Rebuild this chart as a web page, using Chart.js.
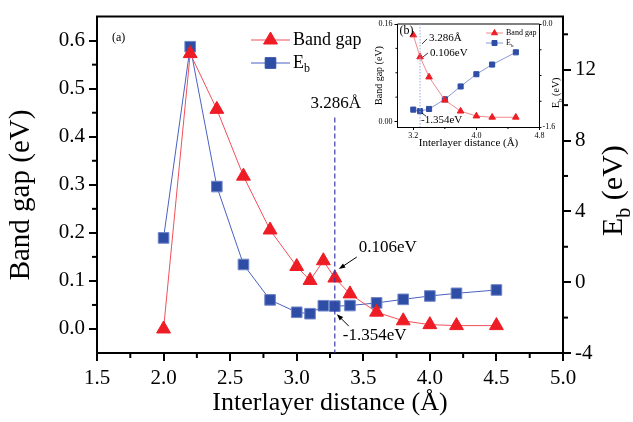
<!DOCTYPE html>
<html>
<head>
<meta charset="utf-8">
<script src="https://cdn.jsdelivr.net/npm/chart.js@4.4.1/dist/chart.umd.min.js"></script>
<style>
  body { margin: 0; background: #fff; }
  #wrap { position: relative; width: 633px; height: 422px; }
  #main { position: absolute; left: 0; top: 0; }
  #inset { position: absolute; left: 368px; top: 14px; }
</style>
</head>
<body>
<div id="wrap">
  <canvas id="main" width="633" height="422"></canvas>
  <canvas id="inset" width="200" height="142"></canvas>
</div>
<script>
// Values
const distance = [2.0, 2.2, 2.4, 2.6, 2.8, 3.0, 3.1, 3.2, 3.286, 3.4, 3.6, 3.8, 4.0, 4.2, 4.5];
const bandGap = [0.0, 0.573, 0.457, 0.318, 0.206, 0.130, 0.101, 0.142, 0.106, 0.073, 0.035, 0.017, 0.009, 0.007, 0.007];
const eb = [2.5, 13.3, 5.4, 1.0, -1.0, -1.70, -1.78, -1.33, -1.354, -1.32, -1.17, -0.97, -0.78, -0.63, -0.44];

// the marked equilibrium distance
const markDistance = 3.286;
const markGap = 0.106;
const markEb = -1.354;
const markTop = 0.44;

// tick labels
const xTicks = [1.5, 2.0, 2.5, 3.0, 3.5, 4.0, 4.5, 5.0];
const xMinor = [1.75, 2.25, 2.75, 3.25, 3.75, 4.25, 4.75];
const gapTicks = [0.0, 0.1, 0.2, 0.3, 0.4, 0.5, 0.6];
const gapMinor = [0.05, 0.15, 0.25, 0.35, 0.45, 0.55];
const ebTicks = [-4, 0, 4, 8, 12];
const ebMinor = [-2, 2, 6, 10, 14];

// inset shows the part from 3.2 A on
const insetFrom = distance.indexOf(3.2);
const insetDistance = distance.slice(insetFrom);
const insetGap = bandGap.slice(insetFrom);
const insetEb = eb.slice(insetFrom);
const insetXTicks = [3.2, 4.0, 4.8];
const insetXMinor = [3.6, 4.4];
const insetGapTicks = [0.0, 0.16];
const insetGapMinor = [0.04, 0.08, 0.12];
const insetEbTicks = [-1.6, 0.0];
const insetEbMinor = [-1.2, -0.8, -0.4];

const serif = "'Liberation Serif', 'Times New Roman', serif";
const red = '#ee1c25';
const redLine = '#f0505a';
const blue = '#2e4ea6';
const blueLine = '#4a60c0';

Chart.defaults.font.family = serif;
Chart.defaults.color = '#000';

function pts(xs, ys) {
    return xs.map((x, i) => ({ x: x, y: ys[i] }));
}

function fixTicks(values) {
    return (scale) => { scale.ticks = values.map((v) => ({ value: v })); };
}

function minorTicks(chart, id, values, len) {
    const s = chart.scales[id];
    const a = chart.chartArea;
    const ctx = chart.ctx;
    ctx.save();
    ctx.strokeStyle = '#000';
    ctx.lineWidth = s.options.grid.lineWidth;
    values.forEach((v) => {
        const p = s.getPixelForValue(v);
        ctx.beginPath();
        if (s.isHorizontal()) { ctx.moveTo(p, a.bottom); ctx.lineTo(p, a.bottom + len); }
        else if (s.position === 'left') { ctx.moveTo(a.left, p); ctx.lineTo(a.left - len, p); }
        else { ctx.moveTo(a.right, p); ctx.lineTo(a.right + len, p); }
        ctx.stroke();
    });
    ctx.restore();
}

function arrow(ctx, x1, y1, x2, y2, head) {
    const ang = Math.atan2(y2 - y1, x2 - x1);
    ctx.beginPath();
    ctx.moveTo(x1, y1);
    ctx.lineTo(x2 - Math.cos(ang) * head * 0.8, y2 - Math.sin(ang) * head * 0.8);
    ctx.stroke();
    ctx.beginPath();
    ctx.moveTo(x2, y2);
    ctx.lineTo(x2 - head * Math.cos(ang - 0.35), y2 - head * Math.sin(ang - 0.35));
    ctx.lineTo(x2 - head * Math.cos(ang + 0.35), y2 - head * Math.sin(ang + 0.35));
    ctx.closePath();
    ctx.fill();
}

// rotated text reading bottom-to-top
function vText(ctx, text, x, y, size) {
    ctx.save();
    ctx.translate(x, y);
    ctx.rotate(-Math.PI / 2);
    ctx.fillStyle = '#000';
    ctx.textBaseline = 'alphabetic';
    ctx.textAlign = 'center';
    ctx.font = size + 'px ' + serif;
    ctx.fillText(text, 0, 0);
    ctx.restore();
}

// E with subscript b, rotated to read bottom-to-top
function ebTitle(ctx, x, y, size) {
    ctx.save();
    ctx.translate(x, y);
    ctx.rotate(-Math.PI / 2);
    ctx.fillStyle = '#000';
    ctx.textBaseline = 'alphabetic';
    ctx.textAlign = 'left';
    ctx.font = size + 'px ' + serif;
    const wE = ctx.measureText('E').width;
    ctx.fillText('E', 0, 0);
    ctx.font = Math.round(size * 0.65) + 'px ' + serif;
    const wb = ctx.measureText('b').width;
    ctx.fillText('b', wE, size * 0.25);
    ctx.font = size + 'px ' + serif;
    ctx.fillText(' (eV)', wE + wb, 0);
    ctx.restore();
}

function legendRow(ctx, x, y, w, color, lineColor, style, r, label, size, sub) {
    ctx.save();
    ctx.strokeStyle = lineColor;
    ctx.lineWidth = 1;
    ctx.beginPath();
    ctx.moveTo(x, y);
    ctx.lineTo(x + w, y);
    ctx.stroke();
    ctx.fillStyle = color;
    ctx.strokeStyle = color;
    Chart.helpers.drawPoint(ctx, { pointStyle: style, radius: r, rotation: 0, borderWidth: 1 }, x + w / 2, y);
    ctx.fillStyle = '#000';
    ctx.textBaseline = 'middle';
    ctx.textAlign = 'left';
    ctx.font = size + 'px ' + serif;
    ctx.fillText(label, x + w + 3, y);
    if (sub) {
        const wl = ctx.measureText(label).width;
        ctx.font = Math.round(size * 0.65) + 'px ' + serif;
        ctx.fillText(sub, x + w + 3 + wl, y + size * 0.35);
    }
    ctx.restore();
}

function axisScale(opts) {
    return {
        type: 'linear',
        position: opts.position,
        min: opts.min,
        max: opts.max,
        afterBuildTicks: fixTicks(opts.ticks),
        afterFit: opts.fit,
        ticks: {
            callback: opts.format,
            font: { family: serif, size: opts.fontSize },
            color: '#000',
            padding: opts.pad,
            maxRotation: 0,
            autoSkip: false
        },
        grid: { drawOnChartArea: false, drawTicks: true, tickLength: opts.tick, color: '#000', lineWidth: opts.lw },
        border: { color: '#000', width: opts.lw },
        title: opts.title || { display: false }
    };
}

// main panel decorations
const mainDecor = {
    id: 'mainDecor',
    afterDraw(chart) {
        const ctx = chart.ctx;
        const a = chart.chartArea;
        const sx = chart.scales.x, sy = chart.scales.y, sy1 = chart.scales.y1;

        ctx.save();
        ctx.strokeStyle = '#000';
        ctx.lineWidth = 2;
        ctx.beginPath();
        ctx.moveTo(a.left - 1, a.top);
        ctx.lineTo(a.right + 1, a.top);
        ctx.stroke();
        ctx.restore();

        minorTicks(chart, 'x', xMinor, 5);
        minorTicks(chart, 'y', gapMinor, 5);
        minorTicks(chart, 'y1', ebMinor, 5);

        // dashed guide at the equilibrium distance
        const gx = sx.getPixelForValue(markDistance);
        const gTop = sy.getPixelForValue(markTop);
        ctx.save();
        ctx.strokeStyle = '#3c3ca8';
        ctx.lineWidth = 1.2;
        ctx.setLineDash([5, 3]);
        ctx.beginPath();
        ctx.moveTo(gx, gTop);
        ctx.lineTo(gx, a.bottom);
        ctx.stroke();
        ctx.restore();

        ctx.save();
        ctx.fillStyle = '#000';
        ctx.strokeStyle = '#000';
        ctx.lineWidth = 1;
        ctx.font = '17px ' + serif;
        ctx.textBaseline = 'middle';
        ctx.textAlign = 'center';
        ctx.fillText(markDistance + 'Å', gx + 1, gTop - 14);

        ctx.textAlign = 'left';
        const pg = sy.getPixelForValue(markGap);
        ctx.fillText(markGap.toFixed(3) + 'eV', gx + 24, pg - 30);
        arrow(ctx, gx + 22, pg - 21, gx + 4, pg - 9, 7);

        const pe = sy1.getPixelForValue(markEb);
        ctx.fillText(markEb.toFixed(3) + 'eV', gx + 8, pe + 29);
        arrow(ctx, gx + 14, pe + 20, gx + 2, pe + 8, 7);

        ctx.font = '12px ' + serif;
        ctx.fillText('(a)', a.left + 15, a.top + 21);
        ctx.restore();

        legendRow(ctx, 251, 40, 39, red, redLine, 'triangle', 8, 'Band gap', 18);
        legendRow(ctx, 251, 63, 39, blue, blueLine, 'rect', 7.5, 'E', 18, 'b');

        vText(ctx, 'Band gap (eV)', 29, 195, 29);
        ebTitle(ctx, 622, 236, 30);
    }
};

new Chart(document.getElementById('main'), {
    type: 'line',
    data: {
        datasets: [
            {
                label: 'Band gap',
                data: pts(distance, bandGap),
                yAxisID: 'y',
                borderColor: redLine,
                borderWidth: 1,
                backgroundColor: red,
                pointStyle: 'triangle',
                pointRadius: 8,
                pointBackgroundColor: red,
                pointBorderColor: red,
                pointBorderWidth: 1
            },
            {
                label: 'Eb',
                data: pts(distance, eb),
                yAxisID: 'y1',
                borderColor: blueLine,
                borderWidth: 1,
                backgroundColor: blue,
                pointStyle: 'rect',
                pointRadius: 7.5,
                pointBackgroundColor: blue,
                pointBorderColor: '#6f85c8',
                pointBorderWidth: 1
            }
        ]
    },
    options: {
        responsive: false,
        animation: false,
        devicePixelRatio: 1,
        layout: { padding: { top: 12, left: 0, right: 0, bottom: 0 } },
        plugins: { legend: { display: false }, tooltip: { enabled: false } },
        scales: {
            x: axisScale({
                position: 'bottom', min: 1.5, max: 5.0, ticks: xTicks,
                fit: (s) => { s.height = 69; },
                format: (v) => v.toFixed(1), fontSize: 21, pad: 5, tick: 8, lw: 2,
                title: { display: true, text: 'Interlayer distance (Å)', color: '#000',
                         font: { family: serif, size: 26 }, padding: { top: 0, bottom: 3 } }
            }),
            y: axisScale({
                position: 'left', min: -0.05, max: 0.65, ticks: gapTicks,
                fit: (s) => { s.width = 97; },
                format: (v) => v.toFixed(1), fontSize: 21, pad: 4, tick: 8, lw: 2
            }),
            y1: axisScale({
                position: 'right', min: -4, max: 15, ticks: ebTicks,
                fit: (s) => { s.width = 70; },
                format: (v) => String(v), fontSize: 21, pad: 4, tick: 8, lw: 2
            })
        }
    },
    plugins: [mainDecor]
});

// inset panel decorations
const insetDecor = {
    id: 'insetDecor',
    afterDraw(chart) {
        const ctx = chart.ctx;
        const a = chart.chartArea;
        const sx = chart.scales.x, sy = chart.scales.y, sy1 = chart.scales.y1;

        ctx.save();
        ctx.strokeStyle = '#000';
        ctx.lineWidth = 1;
        ctx.beginPath();
        ctx.moveTo(a.left, a.top);
        ctx.lineTo(a.right, a.top);
        ctx.stroke();
        ctx.restore();

        minorTicks(chart, 'x', insetXMinor, 2);
        minorTicks(chart, 'y', insetGapMinor, 2);
        minorTicks(chart, 'y1', insetEbMinor, 2);

        const gx = sx.getPixelForValue(markDistance);
        ctx.save();
        ctx.strokeStyle = '#9aa6e0';
        ctx.lineWidth = 1;
        ctx.setLineDash([1.5, 1.5]);
        ctx.beginPath();
        ctx.moveTo(gx, a.top);
        ctx.lineTo(gx, a.bottom);
        ctx.stroke();
        ctx.restore();

        ctx.save();
        ctx.fillStyle = '#000';
        ctx.strokeStyle = '#000';
        ctx.lineWidth = 0.8;
        ctx.font = '11px ' + serif;
        ctx.textBaseline = 'middle';
        ctx.textAlign = 'left';
        const pg = sy.getPixelForValue(markGap);
        const pe = sy1.getPixelForValue(markEb);
        ctx.fillText(markDistance + 'Å', gx + 9, pg - 19);
        ctx.fillText(markGap.toFixed(3) + 'eV', gx + 10, pg - 4);
        ctx.fillText(markEb.toFixed(3) + 'eV', gx + 1, pe + 9);
        ctx.beginPath();
        ctx.moveTo(gx + 7, pg - 18); ctx.lineTo(gx + 2, pg - 13);
        ctx.moveTo(gx + 8, pg - 4); ctx.lineTo(gx + 3, pg);
        ctx.moveTo(gx + 6, pe + 5); ctx.lineTo(gx + 2, pe + 2);
        ctx.stroke();
        ctx.font = '12px ' + serif;
        ctx.fillText('(b)', a.left + 2, a.top + 7);
        ctx.restore();

        legendRow(ctx, 118, 19, 17, red, '#f08a8a', 'triangle', 3.5, 'Band gap', 8);
        legendRow(ctx, 118, 29, 17, blue, '#8a98d8', 'rect', 3.5, 'E', 8, 'b');

        ebTitle(ctx, 191, 94, 10);
    }
};

new Chart(document.getElementById('inset'), {
    type: 'line',
    data: {
        datasets: [
            {
                data: pts(insetDistance, insetGap),
                yAxisID: 'y',
                borderColor: '#f08a8a',
                borderWidth: 1,
                pointStyle: 'triangle',
                pointRadius: 3.8,
                pointBackgroundColor: red,
                pointBorderColor: red,
                pointBorderWidth: 1
            },
            {
                data: pts(insetDistance, insetEb),
                yAxisID: 'y1',
                borderColor: '#8a98d8',
                borderWidth: 1,
                pointStyle: 'rect',
                pointRadius: 3.6,
                pointBackgroundColor: blue,
                pointBorderColor: blue,
                pointBorderWidth: 1
            }
        ]
    },
    options: {
        responsive: false,
        animation: false,
        devicePixelRatio: 1,
        layout: { padding: { top: 10, left: 0, right: 0, bottom: 0 } },
        plugins: { legend: { display: false }, tooltip: { enabled: false } },
        scales: {
            x: axisScale({
                position: 'bottom', min: 3.0, max: 4.8, ticks: insetXTicks,
                fit: (s) => { s.height = 29; },
                format: (v) => v.toFixed(1), fontSize: 8, pad: 1, tick: 3, lw: 1,
                title: { display: true, text: 'Interlayer distance (Å)', color: '#000',
                         font: { family: serif, size: 11 }, padding: { top: 0, bottom: 6 } }
            }),
            y: axisScale({
                position: 'left', min: -0.009, max: 0.16, ticks: insetGapTicks,
                fit: (s) => { s.width = 29.5; },
                format: (v) => v.toFixed(2), fontSize: 8, pad: 2, tick: 3, lw: 1,
                title: { display: true, text: 'Band gap (eV)', color: '#000',
                         font: { family: serif, size: 10 }, padding: { top: 5, bottom: 0 } }
            }),
            y1: axisScale({
                position: 'right', min: -1.6, max: 0.0, ticks: insetEbTicks,
                fit: (s) => { s.width = 28.5; },
                format: (v) => v.toFixed(1), fontSize: 8, pad: 1, tick: 2, lw: 1
            })
        }
    },
    plugins: [insetDecor]
});
</script>
</body>
</html>
